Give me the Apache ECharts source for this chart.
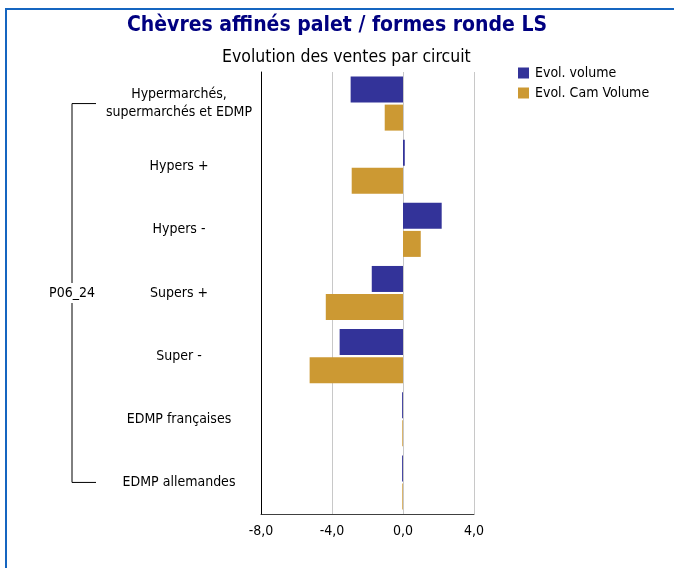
<!DOCTYPE html>
<html>
<head>
<meta charset="utf-8">
<script src="https://cdn.jsdelivr.net/npm/echarts@6/dist/echarts.min.js"></script>
<style>
  html, body { margin: 0; padding: 0; background: #fff; }
  #chart { width: 674px; height: 568px; }
</style>
</head>
<body>
<div id="chart"></div>
<script>
// Sales evolution by channel, period P06_24
const categories = [
  'Hypermarchés,\nsupermarchés et EDMP',
  'Hypers +',
  'Hypers -',
  'Supers +',
  'Super -',
  'EDMP françaises',
  'EDMP allemandes'
];
const evolVolume = [-2.95, 0.1, 2.18, -1.76, -3.57, -0.05, -0.05];
const evolCamVolume = [-1.03, -2.89, 1.0, -4.35, -5.26, -0.04, -0.04];
const xTicks = { min: -8, max: 4, interval: 4 };
const periodLabel = 'P06_24';

const FONT = "'DejaVu Sans Condensed', 'DejaVu Sans', sans-serif";
const chart = echarts.init(document.getElementById('chart'), null, { renderer: 'canvas' });

const option = {
  backgroundColor: '#ffffff',
  animation: false,
  textStyle: { fontFamily: FONT },
  title: [
    {
      text: 'Chèvres affinés palet / formes ronde LS',
      left: 'center',
      top: 10,
      textStyle: { fontFamily: FONT, fontSize: 21, fontWeight: 'bold', color: '#000080' }
    },
    {
      text: 'Evolution des ventes par circuit',
      left: 217,
      top: 43,
      textStyle: { fontFamily: FONT, fontSize: 17.5, fontWeight: 'normal', color: '#000000' }
    }
  ],
  legend: {
    orient: 'vertical',
    left: 518,
    top: 66,
    padding: 0,
    itemWidth: 11,
    itemHeight: 11,
    itemGap: 6,
    icon: 'rect',
    textStyle: { fontFamily: FONT, fontSize: 14, color: '#000', padding: [0, 0, 0, 1] },
    data: ['Evol. volume', 'Evol. Cam Volume']
  },
  grid: { left: 261, right: 200, top: 72, bottom: 54, containLabel: false },
  xAxis: {
    type: 'value',
    min: xTicks.min,
    max: xTicks.max,
    interval: xTicks.interval,
    axisLine: { show: true, lineStyle: { color: '#404040', width: 1 } },
    axisTick: { show: false },
    axisLabel: {
      fontFamily: FONT,
      fontSize: 14,
      color: '#000',
      margin: 10,
      formatter: v => v.toFixed(1).replace('.', ',')
    },
    splitLine: { show: true, lineStyle: { color: '#c8c8c8', width: 1 } }
  },
  yAxis: {
    type: 'category',
    inverse: true,
    data: categories,
    z: 5,
    axisLine: { show: true, onZero: false, lineStyle: { color: '#000', width: 1 } },
    axisTick: { show: false },
    axisLabel: {
      fontFamily: FONT,
      fontSize: 14,
      color: '#000',
      align: 'center',
      margin: 82,
      lineHeight: 18
    }
  },
  series: [
    {
      name: 'Evol. volume',
      type: 'bar',
      data: evolVolume,
      barWidth: 26,
      barGap: '8%',
      itemStyle: { color: '#333399' }
    },
    {
      name: 'Evol. Cam Volume',
      type: 'bar',
      data: evolCamVolume,
      barWidth: 26,
      barGap: '8%',
      itemStyle: { color: '#cc9933' }
    }
  ]
};

chart.setOption(option);

// Outer frame and the bracket grouping all channels under the period label
function drawDecorations() {
  const first = chart.convertToPixel({ yAxisIndex: 0 }, categories[0]);
  const last = chart.convertToPixel({ yAxisIndex: 0 }, categories[categories.length - 1]);
  const mid = (first + last) / 2;
  const bx = 72, armEnd = 96;
  chart.setOption({
    graphic: [
      {
        type: 'rect', z: 100,
        shape: { x: 6, y: 9, width: 700, height: 600 },
        style: { fill: 'none', stroke: '#1565c0', lineWidth: 2 }
      },
      {
        type: 'polyline', z: 50,
        shape: { points: [[armEnd, first], [bx, first], [bx, last], [armEnd, last]] },
        style: { stroke: '#000', lineWidth: 1, fill: 'none' }
      },
      {
        type: 'text', z: 60,
        x: bx, y: mid,
        style: {
          text: periodLabel,
          fontFamily: FONT, fontSize: 14, fill: '#000',
          align: 'center', verticalAlign: 'middle',
          backgroundColor: '#fff', padding: [3, 0]
        }
      }
    ]
  });
}
drawDecorations();
</script>
</body>
</html>
